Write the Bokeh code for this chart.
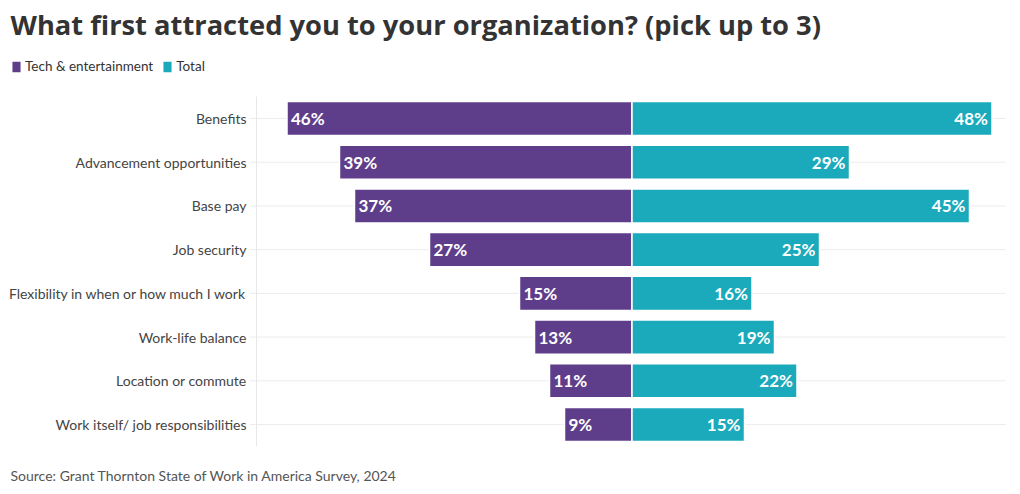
from bokeh.plotting import figure
from bokeh.models import ColumnDataSource, Range1d, LabelSet, Label, Legend, LegendItem
from bokeh.core.properties import value
from bokeh.embed import file_html
from bokeh.resources import INLINE

categories = ["Benefits", "Advancement opportunities", "Base pay", "Job security",
              "Flexibility in when or how much I work", "Work-life balance",
              "Location or commute", "Work itself/ job responsibilities"]
tech = [46, 39, 37, 27, 15, 13, 11, 9]
total = [48, 29, 45, 25, 16, 19, 22, 15]
series_names = ["Tech & entertainment", "Total"]
title_text = "What first attracted you to your organization? (pick up to 3)"
source_text = "Source: Grant Thornton State of Work in America Survey, 2024"

PURPLE = "#5e3e8b"
TEAL = "#1aaabb"
FONT = "Lato"

# ---- layout (pixels) ----
W, H = 1012, 486
ZERO_PX = 631.5          # x pixel of the 0 value
PX_PER_UNIT = 7.5        # pixels per percentage point
ROW0_PX = 118.0          # y pixel of first row centre
ROW_PX = 43.72           # row spacing in pixels
AXIS_LEFT_PX, AXIS_RIGHT_PX = 256, 1005

def xdata(px):
    return (px - ZERO_PX) / PX_PER_UNIT

n = len(categories)
rows = list(range(n))

src = ColumnDataSource(dict(
    row=rows,
    cat=categories,
    tech_left=[-v for v in tech],
    zero=[0] * n,
    total=total,
    tech_lbl=[f"{v}%" for v in tech],
    total_lbl=[f"{v}%" for v in total],
    axis_x=[xdata(AXIS_LEFT_PX)] * n,
    tick_x=[xdata(AXIS_LEFT_PX - 7)] * n,
    grid_x1=[xdata(AXIS_RIGHT_PX)] * n,
))

p = figure(width=W, height=H, output_backend="svg", toolbar_location=None,
           x_range=Range1d(xdata(0), xdata(W)),
           y_range=Range1d((H - ROW0_PX) / ROW_PX, -ROW0_PX / ROW_PX),
           x_axis_location=None, y_axis_location=None,
           min_border=0, min_border_left=0, min_border_right=0,
           min_border_top=0, min_border_bottom=0)
p.outline_line_color = None
p.grid.visible = False
p.background_fill_color = "white"
p.border_fill_color = "white"

# grid lines and axis line
p.segment(x0="tick_x", x1="grid_x1", y0="row", y1="row", source=src,
          line_color="#ececec", line_width=1)
p.segment(x0=[xdata(AXIS_LEFT_PX)], x1=[xdata(AXIS_LEFT_PX)], y0=[-0.5], y1=[n - 0.5],
          line_color="#e8e8e8", line_width=1)

r1 = p.hbar(y="row", left="tech_left", right="zero", height=0.78, source=src,
            fill_color=PURPLE, line_color="white", line_width=1.5)
r2 = p.hbar(y="row", left="zero", right="total", height=0.78, source=src,
            fill_color=TEAL, line_color="white", line_width=1.5)

p.add_layout(LabelSet(x="tech_left", y="row", text="tech_lbl", source=src, x_offset=4,
                      text_align="left", text_baseline="middle", text_color="white",
                      text_font=value(FONT), text_font_style="bold", text_font_size="17px"))
p.add_layout(LabelSet(x="total", y="row", text="total_lbl", source=src, x_offset=-4,
                      text_align="right", text_baseline="middle", text_color="white",
                      text_font=value(FONT), text_font_style="bold", text_font_size="17px"))

# category labels
p.add_layout(LabelSet(x="axis_x", y="row", text="cat", source=src, x_offset=-10,
                      text_align="right", text_baseline="middle", text_color="#444444",
                      text_font=value(FONT), text_font_size="14px"))

# title and source
p.add_layout(Label(x=10, y=H - 24, x_units="screen", y_units="screen",
                   text=title_text, text_font="Open Sans", text_font_style="bold",
                   text_font_size="27.3px", text_color="#333333", text_baseline="alphabetic"))
p.add_layout(Label(x=10, y=H - 475, x_units="screen", y_units="screen",
                   text=source_text, text_font=FONT, text_font_size="14px",
                   text_color="#555555", text_baseline="middle"))

legend = Legend(items=[LegendItem(label=series_names[0], renderers=[r1]),
                       LegendItem(label=series_names[1], renderers=[r2])],
                location=(10, H - 74), orientation="horizontal",
                glyph_width=12, glyph_height=15, label_height=15, label_standoff=3,
                spacing=8, padding=0, margin=0, border_line_color=None,
                background_fill_alpha=0, label_text_font=FONT,
                label_text_font_size="13.5px", label_text_color="#333333")
p.add_layout(legend, "center")

open("out.html", "w").write(file_html(p, INLINE))
